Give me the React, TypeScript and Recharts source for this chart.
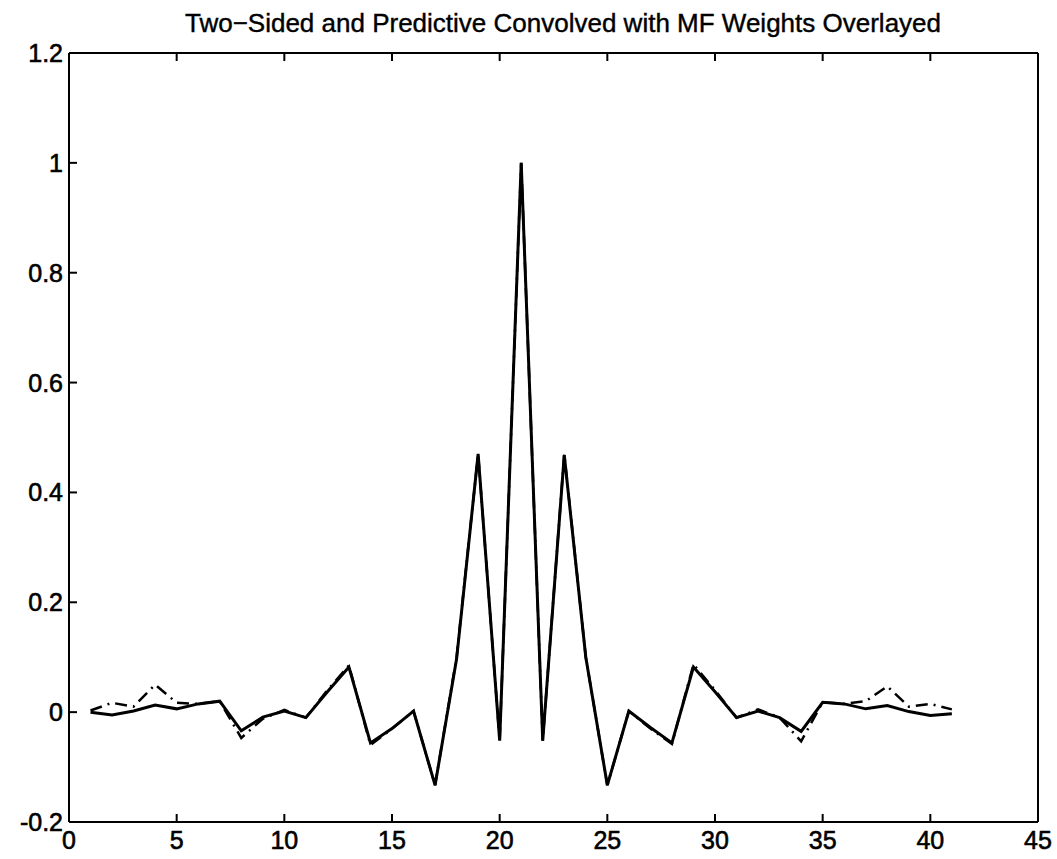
import { LineChart, Line, XAxis, YAxis } from 'recharts';

// sample index along the filter
const samples = [
  1, 2, 3, 4, 5, 6, 7, 8, 9, 10, 11, 12, 13, 14, 15, 16, 17, 18, 19, 20, 21,
  22, 23, 24, 25, 26, 27, 28, 29, 30, 31, 32, 33, 34, 35, 36, 37, 38, 39, 40, 41,
];

// two-sided filter convolved with the MF weights (solid)
const twoSided = [
  0, -0.005, 0.002, 0.013, 0.006, 0.015, 0.02, -0.034, -0.009, 0.002, -0.01,
  0.037, 0.082, -0.056, -0.03, 0.002, -0.133, 0.097, 0.47, -0.052, 1.0,
  -0.052, 0.468, 0.1, -0.133, 0.002, -0.028, -0.056, 0.082, 0.037, -0.01,
  0.002, -0.01, -0.035, 0.018, 0.015, 0.006, 0.012, 0.001, -0.006, -0.003,
];

// predictive filter convolved with the MF weights (dash-dot)
const predictive = [
  0.003, 0.017, 0.01, 0.05, 0.017, 0.015, 0.02, -0.047, -0.012, 0.004, -0.01,
  0.04, 0.085, -0.06, -0.03, 0.002, -0.133, 0.1, 0.47, -0.052, 1.0,
  -0.052, 0.47, 0.1, -0.133, 0.002, -0.03, -0.058, 0.087, 0.04, -0.01,
  0.005, -0.01, -0.053, 0.018, 0.015, 0.02, 0.047, 0.01, 0.015, 0.005,
];

const xTicks = [0, 5, 10, 15, 20, 25, 30, 35, 40, 45];
const yTicks = [-0.2, 0, 0.2, 0.4, 0.6, 0.8, 1, 1.2];

const title = 'Two\u2212Sided and Predictive Convolved with MF Weights Overlayed';

const data = samples.map((n, i) => ({
  n,
  twoSided: twoSided[i],
  predictive: predictive[i],
}));

const FONT = '"Liberation Sans", Arial, Helvetica, sans-serif';
const TICK_LEN = 8;

const fmt = (v: number) => String(Number(v.toFixed(1)));

// ticks point into the plot box, MATLAB style
function BottomTick({ x, y, payload }: any) {
  return (
    <g>
      <line x1={x} y1={y} x2={x} y2={y - TICK_LEN} stroke="#000" strokeWidth={2} />
      <text
        x={x}
        y={y + 27}
        textAnchor="middle"
        fontSize={25}
        fontFamily={FONT}
        fill="#000"
        stroke="#000"
        strokeWidth={0.6}
      >
        {fmt(payload.value)}
      </text>
    </g>
  );
}

function TopTick({ x, y }: any) {
  return <line x1={x} y1={y} x2={x} y2={y + TICK_LEN} stroke="#000" strokeWidth={2} />;
}

function LeftTick({ x, y, payload }: any) {
  return (
    <g>
      <line x1={x} y1={y} x2={x + TICK_LEN} y2={y} stroke="#000" strokeWidth={2} />
      <text
        x={x - 6}
        y={y + 9}
        textAnchor="end"
        fontSize={25}
        fontFamily={FONT}
        fill="#000"
        stroke="#000"
        strokeWidth={0.6}
      >
        {fmt(payload.value)}
      </text>
    </g>
  );
}

function RightTick({ x, y }: any) {
  return <line x1={x} y1={y} x2={x - TICK_LEN} y2={y} stroke="#000" strokeWidth={2} />;
}

export default function App() {
  return (
    <div style={{ position: 'absolute', left: 0, top: 0, width: 1057, height: 859, background: '#fff' }}>
      <div
        style={{
          position: 'absolute',
          left: 63,
          width: 1000,
          top: 8,
          textAlign: 'center',
          fontFamily: FONT,
          fontSize: 26,
          lineHeight: '30px',
          color: '#000',
          WebkitTextStroke: '0.4px #000',
          whiteSpace: 'nowrap',
        }}
      >
        {title}
      </div>
      <LineChart
        width={1057}
        height={859}
        data={data}
        margin={{ top: 52, right: 18, left: 9, bottom: 0 }}
      >
        <XAxis
          xAxisId="bottom"
          dataKey="n"
          type="number"
          domain={[0, 45]}
          ticks={xTicks}
          interval={0}
          height={37}
          tickSize={0}
          tickMargin={0}
          tickLine={false}
          axisLine={{ stroke: '#000', strokeWidth: 2 }}
          tick={<BottomTick />}
        />
        <XAxis
          xAxisId="top"
          orientation="top"
          dataKey="n"
          type="number"
          domain={[0, 45]}
          ticks={xTicks}
          interval={0}
          height={1}
          tickSize={0}
          tickMargin={0}
          tickLine={false}
          axisLine={{ stroke: '#000', strokeWidth: 2 }}
          tick={<TopTick />}
        />
        <YAxis
          yAxisId="left"
          type="number"
          domain={[-0.2, 1.2]}
          ticks={yTicks}
          interval={0}
          width={60}
          tickSize={0}
          tickMargin={0}
          tickLine={false}
          axisLine={{ stroke: '#000', strokeWidth: 2 }}
          tick={<LeftTick />}
        />
        <YAxis
          yAxisId="right"
          orientation="right"
          type="number"
          domain={[-0.2, 1.2]}
          ticks={yTicks}
          interval={0}
          width={1}
          tickSize={0}
          tickMargin={0}
          tickLine={false}
          axisLine={{ stroke: '#000', strokeWidth: 2 }}
          tick={<RightTick />}
        />
        <Line
          xAxisId="bottom"
          yAxisId="left"
          type="linear"
          dataKey="predictive"
          stroke="#000"
          strokeWidth={2.5}
          strokeDasharray="12 6 2 6"
          dot={false}
          isAnimationActive={false}
        />
        <Line
          xAxisId="bottom"
          yAxisId="left"
          type="linear"
          dataKey="twoSided"
          stroke="#000"
          strokeWidth={3}
          dot={false}
          isAnimationActive={false}
        />
      </LineChart>
    </div>
  );
}
